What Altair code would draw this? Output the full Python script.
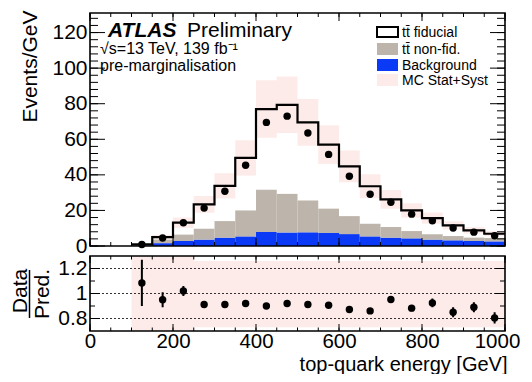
import altair as alt
import pandas as pd

# ---------------- data ----------------
bin_low = [100, 150, 200, 250, 300, 350, 400, 450, 500, 550, 600, 650, 700, 750, 800, 850, 900, 950]
bin_width = 50
ttbar_fiducial = [0.3, 1.4, 6.7, 13.7, 19.8, 29.5, 45.4, 50.1, 43.9, 36.0, 28.0, 21.1, 15.5, 11.6, 9.1, 6.0, 4.1, 2.4]
ttbar_nonfid = [0.3, 2.0, 3.6, 6.1, 9.3, 14.6, 23.7, 21.7, 17.9, 13.7, 10.1, 7.1, 6.0, 4.1, 3.0, 2.4, 1.9, 1.9]
background = [0.3, 1.6, 2.8, 3.6, 4.7, 5.4, 7.9, 7.6, 7.7, 7.3, 6.7, 5.4, 4.7, 4.3, 3.6, 3.2, 2.8, 2.6]
data_events = [0.8, 4.5, 13.1, 21.3, 30.8, 45.4, 69.5, 73.0, 63.5, 51.5, 39.2, 29.1, 24.6, 17.9, 14.2, 10.1, 7.8, 5.8]
mc_unc_rel = [0.30, 0.25, 0.22, 0.20, 0.21, 0.20, 0.21, 0.20, 0.19, 0.19, 0.20, 0.20, 0.20, 0.20, 0.20, 0.20, 0.20, 0.20]
ratio = [1.085, 0.95, 1.02, 0.912, 0.912, 0.92, 0.90, 0.92, 0.912, 0.906, 0.872, 0.861, 0.952, 0.883, 0.925, 0.85, 0.89, 0.805]
ratio_err = [0.185, 0.06, 0.04, 0.015, 0.015, 0.015, 0.012, 0.012, 0.012, 0.015, 0.015, 0.018, 0.02, 0.025, 0.035, 0.04, 0.04, 0.045]
ratio_band_up = [1.40, 1.40, 1.40, 1.26, 1.26, 1.26, 1.26, 1.26, 1.26, 1.26, 1.26, 1.26, 1.26, 1.26, 1.26, 1.26, 1.26, 1.26]
ratio_band_down = [0.60, 0.60, 0.60, 0.73, 0.73, 0.73, 0.73, 0.73, 0.73, 0.73, 0.73, 0.73, 0.73, 0.73, 0.73, 0.73, 0.73, 0.73]

x_label_values = [0, 200, 400, 600, 800, 1000]
x_minor_values = list(range(0, 1001, 50))
y_main_labels = [0, 20, 40, 60, 80, 100, 120]
y_main_minor = list(range(0, 131, 4))
y_ratio_labels = [0.8, 1.0, 1.2]
y_ratio_minor = [0.9, 1.1]
ratio_grid = [0.8, 1.0, 1.2]

legend_labels = ["tt\u0304 fiducial", "tt\u0304 non-fid.", "Background", "MC Stat+Syst"]

# ---------------- style ----------------
FONT = "Liberation Sans"
W, H = 415, 318
MAIN_RANGE = [233, 0]
RATIO_RANGE = [318, 243]
YMAX = 131
C_NONFID = "#bdb5ab"
C_BKG = "#0a3af5"
C_BAND = "#f08878"
BAND_OP = 0.17

# ---------------- tables ----------------
df = pd.DataFrame({
    "lo": bin_low,
    "fid": ttbar_fiducial,
    "nonfid": ttbar_nonfid,
    "bkg": background,
    "data": data_events,
    "rel": mc_unc_rel,
    "ratio": ratio,
    "rerr": ratio_err,
    "rb_up": ratio_band_up,
    "rb_dn": ratio_band_down,
})
df["hi"] = df["lo"] + bin_width
df["c"] = df["lo"] + bin_width / 2
df["zero"] = 0.0
df["n_top"] = df["bkg"] + df["nonfid"]
df["total"] = df["n_top"] + df["fid"]
df["band_lo"] = df["total"] * (1 - df["rel"])
df["band_hi"] = df["total"] * (1 + df["rel"])
df["derr"] = df["rerr"] * df["total"]
df["d_lo"] = df["data"] - df["derr"]
df["d_hi"] = df["data"] + df["derr"]
df["r_lo"] = df["ratio"] - df["rerr"]
df["r_hi"] = df["ratio"] + df["rerr"]

step = pd.DataFrame({
    "x": bin_low + [bin_low[-1] + bin_width],
    "y": list(df["total"]) + [df["total"].iloc[-1]],
})

xs = alt.Scale(domain=[0, 1000], nice=False, zero=False)
ym = alt.Scale(domain=[0, YMAX], range=MAIN_RANGE, nice=False, zero=False)
yr = alt.Scale(domain=[0.7, 1.3], range=RATIO_RANGE, nice=False, zero=False, clamp=True)

AX_X = alt.Axis(
    orient="bottom", values=x_label_values, format="d", ticks=False, tickSize=0, domain=False,
    grid=False, labelFont=FONT, labelFontSize=20.5, labelPadding=0, labelColor="black",
    labelFlush=False, labelOffset=alt.expr("datum.value == 1000 ? -8 : 0"),
    title="top-quark energy [GeV]", titleFont=FONT, titleFontSize=20, titleFontWeight="normal",
    titleColor="black", titleAlign="right", titleBaseline="alphabetic", titleX=417, titleY=39)
AX_YM = alt.Axis(
    orient="left", values=y_main_labels, ticks=False, tickSize=0, domain=False, grid=False,
    labelFont=FONT, labelFontSize=21, labelPadding=3, labelColor="black",
    title="Events/GeV", titleFont=FONT, titleFontSize=21, titleFontWeight="normal",
    titleColor="black", titleAngle=270, titleAlign="right", titleBaseline="alphabetic",
    titleX=-54, titleY=-3)
AX_YR = alt.Axis(
    orient="left", values=y_ratio_labels, format="~g", ticks=False, tickSize=0, domain=False,
    grid=False, labelFont=FONT, labelFontSize=21, labelPadding=3, labelColor="black", title=None)

one = pd.DataFrame({"k": [0]})
base = alt.Chart(df)

def X(f):
    return alt.X(f, scale=xs, axis=AX_X)

def YM(f):
    return alt.Y(f, scale=ym, axis=AX_YM)

def YR(f):
    return alt.Y(f, scale=yr, axis=AX_YR)

# ---------------- main panel ----------------
frame_main = alt.Chart(pd.DataFrame({"x0": [0], "x1": [1000], "y0": [0], "y1": [YMAX]})).mark_rect(
    fill=None, stroke="black", strokeWidth=1.6
).encode(x=X("x0:Q"), x2="x1:Q", y=YM("y0:Q"), y2="y1:Q")

bkg_bars = base.mark_rect(color=C_BKG).encode(x=X("lo:Q"), x2="hi:Q", y=YM("zero:Q"), y2="bkg:Q")
nonfid_bars = base.mark_rect(color=C_NONFID).encode(x=X("lo:Q"), x2="hi:Q", y=YM("bkg:Q"), y2="n_top:Q")
band_main = base.mark_rect(color=C_BAND, opacity=BAND_OP).encode(
    x=X("lo:Q"), x2="hi:Q", y=YM("band_lo:Q"), y2="band_hi:Q")
step_line = alt.Chart(step).mark_line(interpolate="step-after", color="black", strokeWidth=2.2).encode(
    x=X("x:Q"), y=YM("y:Q"))
data_err = base.mark_rule(color="black", strokeWidth=2).encode(x=X("c:Q"), y=YM("d_lo:Q"), y2="d_hi:Q")
data_pts = base.mark_circle(color="black", size=55, opacity=1).encode(x=X("c:Q"), y=YM("data:Q"))

def yticks(vals, Yf, length):
    d = alt.Chart(pd.DataFrame({"v": vals}))
    left = d.mark_rule(color="black", strokeWidth=1).encode(
        y=Yf("v:Q"), x=alt.value(0), x2=alt.value(length))
    right = d.mark_rule(color="black", strokeWidth=1).encode(
        y=Yf("v:Q"), x=alt.value(W), x2=alt.value(W - length))
    return [left, right]

def xticks(vals, length, y_top, y_bottom):
    d = alt.Chart(pd.DataFrame({"v": vals}))
    top = d.mark_rule(color="black", strokeWidth=1).encode(
        x=X("v:Q"), y=alt.value(y_top), y2=alt.value(y_top + length))
    bot = d.mark_rule(color="black", strokeWidth=1).encode(
        x=X("v:Q"), y=alt.value(y_bottom), y2=alt.value(y_bottom - length))
    return [top, bot]

main_ticks = (yticks(y_main_labels, YM, 15) + yticks(y_main_minor, YM, 8)
              + xticks(x_label_values, 8, 0, 233) + xticks(x_minor_values, 4, 0, 233))

def txt(s, x, y, size, **kw):
    return alt.Chart(one).mark_text(text=s, align="left", baseline="alphabetic", font=FONT,
                                    fontSize=size, color="black", **kw).encode(
        x=alt.value(x), y=alt.value(y))

texts = [
    txt("ATLAS", 18, 24, 21, fontWeight="bold", fontStyle="italic"),
    txt("Preliminary", 97, 24, 21),
    txt("\u221as=13 TeV, 139 fb\u207b\u00b9", 10, 41, 16),
    txt("pre-marginalisation", 10, 58, 16),
]

legend_rows = [19, 36, 52, 67]
legend_marks = []
swatch_styles = [
    dict(fill="white", stroke="black", strokeWidth=2),
    dict(fill=C_NONFID),
    dict(fill=C_BKG),
    dict(fill=C_BAND, opacity=BAND_OP),
]
for lab, yc, sty in zip(legend_labels, legend_rows, swatch_styles):
    h = 5 if lab.endswith("fiducial") else 6
    legend_marks.append(alt.Chart(one).mark_rect(**sty).encode(
        x=alt.value(287), x2=alt.value(308), y=alt.value(yc - h), y2=alt.value(yc + h)))
    legend_marks.append(txt(lab, 312, yc + 5, 14))

main = alt.layer(bkg_bars, nonfid_bars, band_main, step_line, data_err, data_pts,
                 *main_ticks, frame_main, *texts, *legend_marks)

# ---------------- ratio panel ----------------
frame_ratio = alt.Chart(pd.DataFrame({"x0": [0], "x1": [1000], "y0": [0.7], "y1": [1.3]})).mark_rect(
    fill=None, stroke="black", strokeWidth=1.6
).encode(x=X("x0:Q"), x2="x1:Q", y=YR("y0:Q"), y2="y1:Q")
band_ratio = base.mark_rect(color=C_BAND, opacity=BAND_OP).encode(
    x=X("lo:Q"), x2="hi:Q", y=YR("rb_dn:Q"), y2="rb_up:Q")
grid = alt.Chart(pd.DataFrame({"v": ratio_grid})).mark_rule(
    color="#333333", strokeWidth=1, strokeDash=[2, 2]).encode(
    y=YR("v:Q"), x=alt.value(0), x2=alt.value(W))
r_err = base.mark_rule(color="black", strokeWidth=2).encode(x=X("c:Q"), y=YR("r_lo:Q"), y2="r_hi:Q")
r_pts = base.mark_circle(color="black", size=55, opacity=1).encode(x=X("c:Q"), y=YR("ratio:Q"))

ratio_ticks = (yticks(y_ratio_labels, YR, 10) + yticks(y_ratio_minor, YR, 5)
               + xticks(x_label_values, 7, 243, 318) + xticks(x_minor_values, 3.5, 243, 318))

ratio_title = [
    alt.Chart(one).mark_text(text="Data", angle=270, align="center", baseline="alphabetic",
                             font=FONT, fontSize=21, color="black").encode(
        x=alt.value(-63), y=alt.value(278)),
    alt.Chart(one).mark_text(text="Pred.", angle=270, align="center", baseline="alphabetic",
                             font=FONT, fontSize=21, color="black").encode(
        x=alt.value(-41), y=alt.value(281)),
    alt.Chart(one).mark_rule(color="black", strokeWidth=1.5).encode(
        x=alt.value(-60.5), x2=alt.value(-60.5), y=alt.value(257), y2=alt.value(305)),
]

ratio_panel = alt.layer(band_ratio, grid, r_err, r_pts, *ratio_ticks, frame_ratio, *ratio_title)

chart = alt.layer(main, ratio_panel).resolve_scale(y="independent").properties(
    width=W, height=H,
    autosize=alt.AutoSizeParams(type="none"),
    padding={"left": 82, "top": 5, "right": 19, "bottom": 43},
).configure_view(strokeWidth=0)

chart.save("out.html", embed_options={"renderer": "svg", "actions": False})
